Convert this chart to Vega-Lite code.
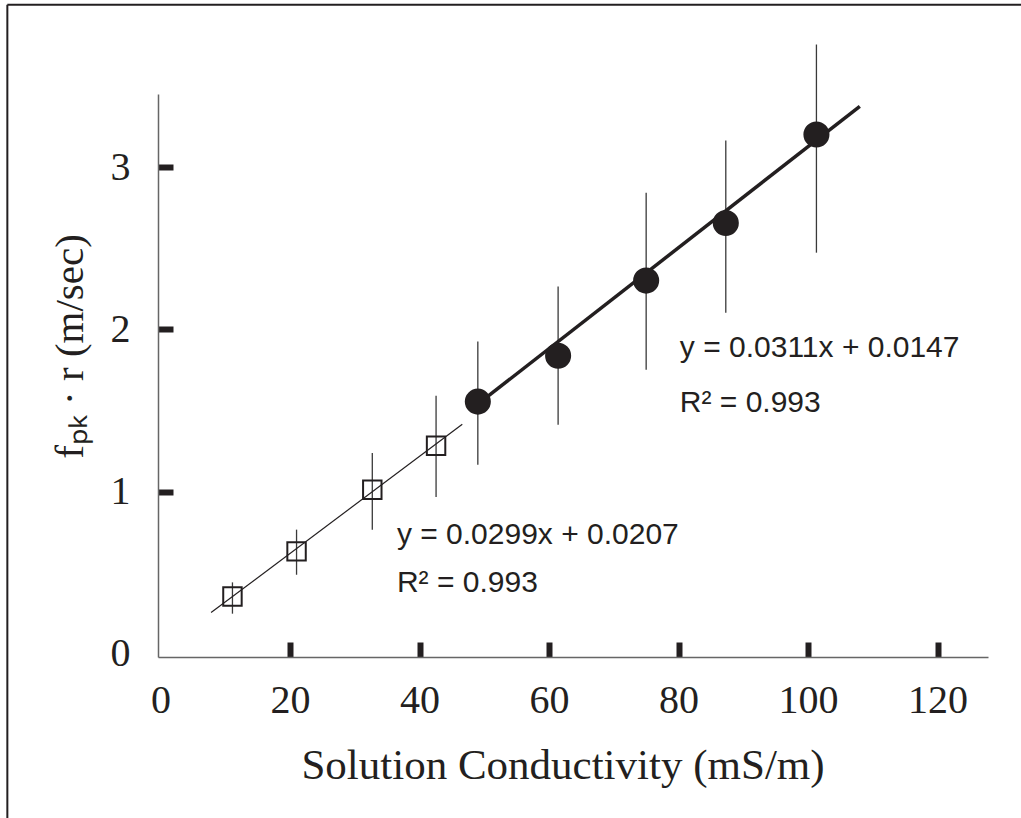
{
  "$schema": "https://vega.github.io/schema/vega-lite/v6.json",
  "width": 830,
  "height": 563,
  "autosize": {"type": "none"},
  "padding": {"left": 158, "top": 94, "right": 33, "bottom": 161},
  "background": "white",
  "config": {
    "view": {"stroke": null},
    "axis": {"grid": false}
  },
  "datasets": {
    "points": [
      {"conductivity": 11.1, "value": 0.353, "lo": 0.247, "hi": 0.44, "series": "low"},
      {"conductivity": 21.0, "value": 0.631, "lo": 0.487, "hi": 0.765, "series": "low"},
      {"conductivity": 32.7, "value": 1.011, "lo": 0.765, "hi": 1.237, "series": "low"},
      {"conductivity": 42.55, "value": 1.282, "lo": 0.966, "hi": 1.59, "series": "low"},
      {"conductivity": 49.0, "value": 1.554, "lo": 1.165, "hi": 1.924, "series": "high"},
      {"conductivity": 61.4, "value": 1.837, "lo": 1.412, "hi": 2.263, "series": "high"},
      {"conductivity": 75.0, "value": 2.30, "lo": 1.751, "hi": 2.842, "series": "high"},
      {"conductivity": 87.3, "value": 2.655, "lo": 2.102, "hi": 3.163, "series": "high"},
      {"conductivity": 101.3, "value": 3.2, "lo": 2.472, "hi": 3.755, "series": "high"}
    ],
    "fits": [
      {"conductivity": 7.8, "value": 0.254, "series": "low"},
      {"conductivity": 46.6, "value": 1.414, "series": "low"},
      {"conductivity": 47.8, "value": 1.501, "series": "high"},
      {"conductivity": 108.0, "value": 3.374, "series": "high"}
    ],
    "notes": [
      {"conductivity": 80.2, "value": 1.887, "label": "y = 0.0311x + 0.0147"},
      {"conductivity": 80.2, "value": 1.547, "label": "R² = 0.993"},
      {"conductivity": 36.5, "value": 0.734, "label": "y = 0.0299x + 0.0207"},
      {"conductivity": 36.5, "value": 0.438, "label": "R² = 0.993"}
    ]
  },
  "layer": [
    {
      "data": {"values": [{}]},
      "mark": {"type": "rule", "color": "#231f20", "strokeWidth": 2, "clip": false},
      "encoding": {
        "x": {"datum": -23.67, "type": "quantitative", "scale": {"domain": [-0.4, 127.8], "nice": false, "zero": false}},
        "x2": {"datum": 140},
        "y": {"datum": 4.0, "type": "quantitative", "scale": {"domain": [-0.02, 3.45], "nice": false, "zero": false}}
      }
    },
    {
      "data": {"values": [{}]},
      "mark": {"type": "rule", "color": "#231f20", "strokeWidth": 2, "clip": false},
      "encoding": {
        "x": {"datum": -23.67, "type": "quantitative"},
        "y": {"datum": 4.0, "type": "quantitative"},
        "y2": {"datum": -1.2}
      }
    },
    {
      "data": {"name": "points"},
      "mark": {"type": "rule", "color": "#3a3a3a", "strokeWidth": 1.3, "clip": false},
      "encoding": {
        "x": {"field": "conductivity", "type": "quantitative",
              "scale": {"domain": [-0.4, 127.8], "nice": false, "zero": false},
              "axis": {
                "values": [0, 20, 40, 60, 80, 100, 120],
                "format": "d",
                "title": "Solution Conductivity (mS/m)",
                "domainColor": "#666666",
                "domainWidth": 1.5,
                "tickColor": "#231f20",
                "tickSize": -15,
                "tickWidth": 6,
                "tickOpacity": {"condition": {"test": "datum.value === 0", "value": 0}, "value": 1},
                "labelFont": "Liberation Serif",
                "labelFontSize": 40,
                "labelColor": "#231f20",
                "labelPadding": 38,
                "labelFlush": false,
                "titleFont": "Liberation Serif",
                "titleFontSize": 43,
                "titleFontWeight": "normal",
                "titleColor": "#231f20",
                "titleAlign": "center",
                "titleBaseline": "middle",
                "titleX": 404.5,
                "titleY": 108
              }},
        "y": {"field": "lo", "type": "quantitative",
              "scale": {"domain": [-0.02, 3.45], "nice": false, "zero": false},
              "axis": {
                "values": [0, 1, 2, 3],
                "format": "d",
                "title": "fₚₖ · r (m/sec)",
                "domainColor": "#666666",
                "domainWidth": 1.5,
                "tickColor": "#231f20",
                "tickSize": -15,
                "tickWidth": 6,
                "tickOpacity": {"condition": {"test": "datum.value === 0", "value": 0}, "value": 1},
                "labelFont": "Liberation Serif",
                "labelFontSize": 40,
                "labelColor": "#231f20",
                "labelPadding": 43,
                "labelFlush": false,
                "titleFont": "Liberation Serif",
                "titleFontSize": 41,
                "titleFontWeight": "normal",
                "titleColor": "#231f20",
                "titleAngle": -90,
                "titleAlign": "center",
                "titleBaseline": "middle",
                "titleX": -88,
                "titleY": 252
              }},
        "y2": {"field": "hi"}
      }
    },
    {
      "data": {"name": "fits"},
      "transform": [{"filter": "datum.series === 'low'"}],
      "mark": {"type": "line", "color": "#231f20", "strokeWidth": 1.2},
      "encoding": {
        "x": {"field": "conductivity", "type": "quantitative"},
        "y": {"field": "value", "type": "quantitative"}
      }
    },
    {
      "data": {"name": "fits"},
      "transform": [{"filter": "datum.series === 'high'"}],
      "mark": {"type": "line", "color": "#231f20", "strokeWidth": 3.5},
      "encoding": {
        "x": {"field": "conductivity", "type": "quantitative"},
        "y": {"field": "value", "type": "quantitative"}
      }
    },
    {
      "data": {"name": "points"},
      "transform": [{"filter": "datum.series === 'low'"}],
      "mark": {"type": "point", "shape": "square", "filled": false, "stroke": "#231f20", "strokeWidth": 2, "size": 340, "opacity": 1},
      "encoding": {
        "x": {"field": "conductivity", "type": "quantitative"},
        "y": {"field": "value", "type": "quantitative"}
      }
    },
    {
      "data": {"name": "points"},
      "transform": [{"filter": "datum.series === 'high'"}],
      "mark": {"type": "point", "shape": "circle", "filled": true, "color": "#231f20", "size": 680, "opacity": 1},
      "encoding": {
        "x": {"field": "conductivity", "type": "quantitative"},
        "y": {"field": "value", "type": "quantitative"}
      }
    },
    {
      "data": {"name": "notes"},
      "mark": {"type": "text", "font": "Liberation Sans", "fontSize": 30, "color": "#231f20", "align": "left", "baseline": "middle"},
      "encoding": {
        "x": {"field": "conductivity", "type": "quantitative"},
        "y": {"field": "value", "type": "quantitative"},
        "text": {"field": "label"}
      }
    }
  ]
}
